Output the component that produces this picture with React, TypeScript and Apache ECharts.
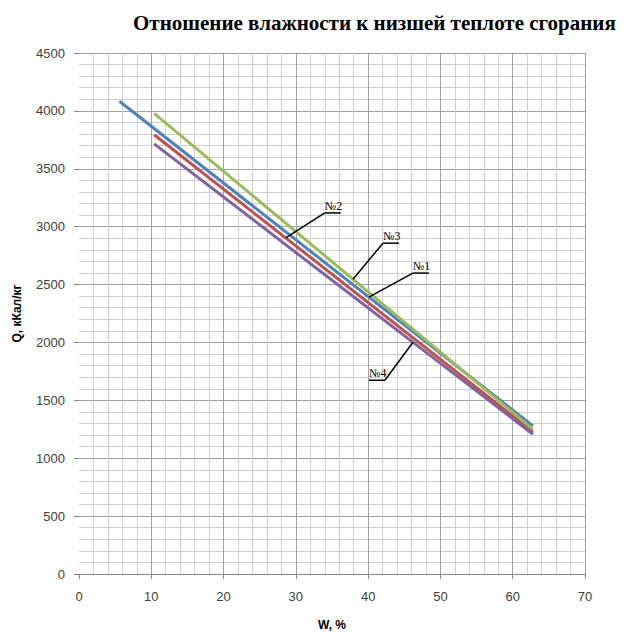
import React, { useEffect, useRef } from "react";
import * as echarts from "echarts";

// Data
const SERIES_NAMES = ["№1", "№2", "№3", "№4"];
const W1 = [5.6, 62.8];
const Q1 = [4083, 1279];
const W2 = [10.4, 62.8];
const Q2 = [3794, 1228];
const W3 = [10.4, 62.8];
const Q3 = [3978, 1250];
const W4 = [10.4, 62.8];
const Q4 = [3715, 1207];
const X_TICKS = [0, 10, 20, 30, 40, 50, 60, 70];
const Y_TICKS = [0, 500, 1000, 1500, 2000, 2500, 3000, 3500, 4000, 4500];
// where each callout touches its line (W value)
const CALLOUT_W = [40.1, 28.6, 37.9, 46.2];

const COLORS = ["#4F81BD", "#C0504D", "#9BBB59", "#8064A2"];
// callout layout in pixels relative to anchor
const CALLOUT_OFFSETS = [
  [44, -24, 1],
  [39, -25, 1],
  [30, -36, 1],
  [-28, 38, -1],
];

export default function App() {
  const ref = useRef<HTMLDivElement>(null);
  useEffect(() => {
    const chart = echarts.init(ref.current!, null, { renderer: "svg" });
    const ws = [W1, W2, W3, W4];
    const qs = [Q1, Q2, Q3, Q4];
    const series = ws.map((w, i) => ({
      name: SERIES_NAMES[i],
      type: "line",
      data: w.map((x, j) => [x, qs[i][j]]),
      showSymbol: false,
      symbol: "none",
      lineStyle: { color: COLORS[i], width: 3 },
      itemStyle: { color: COLORS[i] },
    }));
    const gridColorsX = X_TICKS.map((_, i) => (i === 0 ? "rgba(0,0,0,0)" : "#a0a0a0"));
    chart.setOption({
      animation: false,
      title: {
        text: "Отношение влажности к низшей теплоте сгорания",
        left: 128,
        top: 7,
        textStyle: {
          fontFamily: "Liberation Serif",
          fontWeight: "bold",
          fontSize: 21,
          color: "#000",
        },
      },
      grid: { left: 79, right: 44, top: 53, bottom: 54 },
      xAxis: {
        type: "value",
        min: X_TICKS[0],
        max: X_TICKS[X_TICKS.length - 1],
        interval: 10,
        name: "W, %",
        nameLocation: "middle",
        nameGap: 45,
        nameTextStyle: { fontFamily: "Liberation Sans", fontWeight: "bold", fontSize: 12, color: "#000" },
        axisLine: { show: true, lineStyle: { color: "#868686", width: 1 } },
        axisTick: { show: true, length: 5, lineStyle: { color: "#868686" } },
        axisLabel: { margin: 16, fontFamily: "Liberation Sans", fontSize: 13, color: "#404040" },
        splitLine: { show: true, lineStyle: { color: gridColorsX, width: 1 } },
        minorTick: { show: false, splitNumber: 5 },
        minorSplitLine: { show: true, lineStyle: { color: "#cfcfcf", width: 1 } },
      },
      yAxis: {
        type: "value",
        min: Y_TICKS[0],
        max: Y_TICKS[Y_TICKS.length - 1],
        interval: 500,
        name: "Q, кКал/кг",
        nameLocation: "middle",
        nameGap: 56,
        nameTextStyle: { fontFamily: "Liberation Sans", fontWeight: "bold", fontSize: 12, color: "#000" },
        axisLine: { show: false },
        axisTick: { show: true, length: 5, lineStyle: { color: "#868686" } },
        axisLabel: {
          margin: 14,
          fontFamily: "Liberation Sans",
          fontSize: 13,
          color: "#404040",
          formatter: (v: number) => String(v),
        },
        splitLine: { show: true, lineStyle: { color: "#a0a0a0", width: 1 } },
        minorTick: { show: false, splitNumber: 5 },
        minorSplitLine: { show: true, lineStyle: { color: "#cfcfcf", width: 1 } },
      },
      series,
    });

    const graphics: any[] = [];
    CALLOUT_W.forEach((w, i) => {
      const xs = ws[i];
      const ys = qs[i];
      const t = (w - xs[0]) / (xs[1] - xs[0]);
      const q = ys[0] + t * (ys[1] - ys[0]);
      const p = chart.convertToPixel({ gridIndex: 0 }, [w, q]) as number[];
      const [dx, dy, dir] = CALLOUT_OFFSETS[i];
      const ex = p[0] + dx;
      const ey = p[1] + dy;
      const ux = ex + dir * 16;
      graphics.push({
        type: "line",
        shape: { x1: p[0], y1: p[1], x2: ex, y2: ey },
        style: { stroke: "#000", lineWidth: 1.5 },
        z: 100,
      });
      graphics.push({
        type: "line",
        shape: { x1: ex, y1: ey, x2: ux, y2: ey },
        style: { stroke: "#000", lineWidth: 1.5 },
        z: 100,
      });
      graphics.push({
        type: "text",
        x: Math.min(ex, ux),
        y: ey - 1,
        style: {
          text: SERIES_NAMES[i],
          fontFamily: "Liberation Serif",
          fontSize: 12,
          fill: "#000",
          textAlign: "left",
          textVerticalAlign: "bottom",
        },
        z: 100,
      });
    });
    chart.setOption({ graphic: graphics });
    return () => chart.dispose();
  }, []);
  return (
    <div
      ref={ref}
      style={{ position: "fixed", left: 0, top: 0, width: 629, height: 636, background: "#fff" }}
    />
  );
}
